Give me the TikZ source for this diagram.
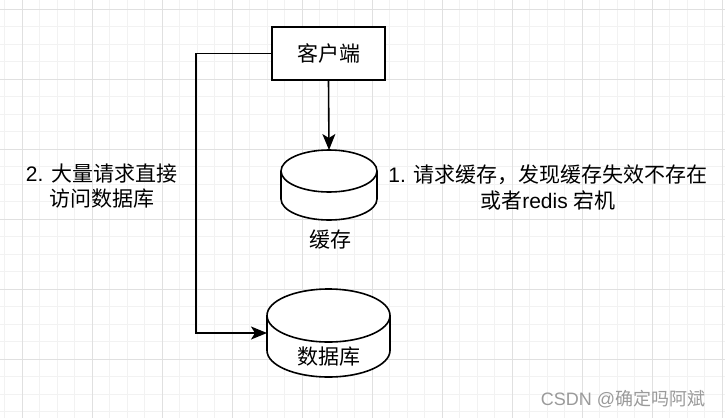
\documentclass[tikz,border=0pt]{standalone}
\usepackage{fontspec}
\setmainfont{Liberation Sans}
\newfontfamily\cjk{Noto Sans CJK SC}
\usetikzlibrary{arrows.meta}
\definecolor{gridminor}{HTML}{F2F2F2}
\definecolor{gridmajor}{HTML}{E0E0E0}
\definecolor{wmark}{HTML}{9A9A9A}
\begin{document}
\begin{tikzpicture}[x=1pt,y=-1pt,
  minorgrid/.style={draw=gridminor, line width=1pt},
  majorgrid/.style={draw=gridmajor, line width=1pt},
  shapeline/.style={line width=1.6pt, draw=black},
  conn/.style={line width=1.6pt, draw=black, -{Stealth[length=16pt,width=13pt,inset=4pt]}},
  lbl/.style={font=\fontsize{21}{25.5}\selectfont, align=center, inner sep=0pt},
  holder/.style={inner sep=0pt, outer sep=0pt},
]
\useasboundingbox (0,0) rectangle (725,418);
\fill[white] (0,0) rectangle (725,418);
% grid
\foreach \i in {0,...,41} \draw[minorgrid] ({4.8+17.5*\i},0) -- ({4.8+17.5*\i},418);
\foreach \j in {0,...,23} \draw[minorgrid] (0,{9.3+17.5*\j}) -- (725,{9.3+17.5*\j});
\foreach \i in {0,...,10} \draw[majorgrid] ({22.3+70*\i},0) -- ({22.3+70*\i},418);
\foreach \j in {0,...,5} \draw[majorgrid] (0,{9.3+70*\j}) -- (725,{9.3+70*\j});

% client box
\node[shapeline, fill=white, lbl, minimum width=113pt, minimum height=53pt] (client) at (328.5,53.5) {\cjk 客户端};

% cache cylinder
\node[holder, minimum width=96pt, minimum height=70pt] (cache) at (329,185) {};
\draw[shapeline, fill=white] (281,171) -- (281,199)
  arc[start angle=180, end angle=360, x radius=48pt, y radius=21pt] -- (377,171)
  arc[start angle=0, end angle=180, x radius=48pt, y radius=21pt] -- cycle;
\draw[shapeline] (281,171) arc[start angle=180, end angle=360, x radius=48pt, y radius=21pt];
\node[lbl] (cachelbl) at (330,240) {\cjk 缓存};

% database cylinder
\node[holder, minimum width=123pt, minimum height=88pt] (db) at (328.5,333) {};
\draw[shapeline, fill=white] (267,315.5) -- (267,350.5)
  arc[start angle=180, end angle=360, x radius=61.5pt, y radius=26.5pt] -- (390,315.5)
  arc[start angle=0, end angle=180, x radius=61.5pt, y radius=26.5pt] -- cycle;
\draw[shapeline] (267,315.5) arc[start angle=180, end angle=360, x radius=61.5pt, y radius=26.5pt];
\node[lbl] (dblbl) at (328.5,357) {\cjk 数据库};

% connectors
\draw[conn] (client.south) -- (cache.north);
\draw[conn] (client.west) -- ++(-75,0) |- (db.west);

% annotations
\node[lbl] (note2) at (101.5,186) {2. {\cjk 大量请求直接}\\{\cjk 访问数据库}};
\node[lbl] (note1) at (548,187.5) {1. {\cjk 请求缓存，发现缓存失效不存在}\\{\cjk 或者}redis {\cjk 宕机}};

% watermark
\node[font=\fontsize{18}{20}\selectfont, text=wmark, inner sep=0pt] (wm) at (623,399) {CSDN @{\cjk 确定吗阿斌}};
\end{tikzpicture}
\end{document}
